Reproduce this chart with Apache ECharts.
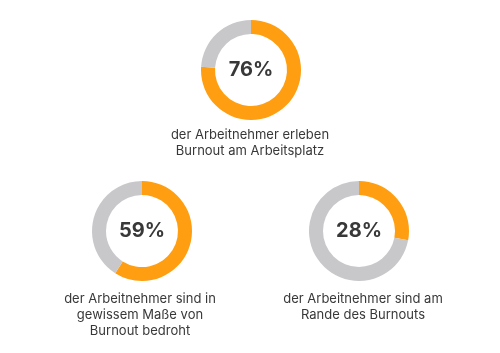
<!DOCTYPE html>
<html>
<head>
<meta charset="utf-8">
<script src="https://cdn.jsdelivr.net/npm/echarts@6/dist/echarts.min.js"></script>
<style>
html,body{margin:0;padding:0;background:#fff;}
#c{width:500px;height:353px;}
</style>
</head>
<body>
<div id="c"></div>
<script>
var percentages = [76, 59, 28];
var captions = [
  "der Arbeitnehmer erleben\nBurnout am Arbeitsplatz",
  "der Arbeitnehmer sind in\ngewissem Maße von\nBurnout bedroht",
  "der Arbeitnehmer sind am\nRande des Burnouts"
];

var centers = [[251, 70], [142, 231], [359, 231]];
var captionPos = [[250, 127], [140, 291], [363, 291]];
var ORANGE = '#FF9E10';
var GREY = '#C8C8CB';
var TEXT = '#383838';
var FONT = 'Inter, Roboto, sans-serif';

var chart = echarts.init(document.getElementById('c'));
var series = percentages.map(function (p, i) {
  return {
    type: 'pie',
    center: centers[i],
    radius: [36, 50],
    startAngle: 90,
    clockwise: true,
    silent: true,
    animation: false,
    labelLine: { show: false },
    data: [
      { value: p, itemStyle: { color: ORANGE },
        label: { show: true, position: 'center', formatter: p + '%',
                 fontSize: 20, fontWeight: 'bold', color: TEXT, fontFamily: FONT } },
      { value: 100 - p, itemStyle: { color: GREY }, label: { show: false } }
    ]
  };
});

var graphics = captions.map(function (t, i) {
  return {
    type: 'text',
    x: captionPos[i][0],
    y: captionPos[i][1],
    style: {
      text: t,
      align: 'center',
      verticalAlign: 'top',
      fontSize: 13,
      lineHeight: 16,
      fill: TEXT,
      fontFamily: FONT
    }
  };
});

chart.setOption({
  backgroundColor: '#fff',
  animation: false,
  series: series,
  graphic: graphics
});
</script>
</body>
</html>
